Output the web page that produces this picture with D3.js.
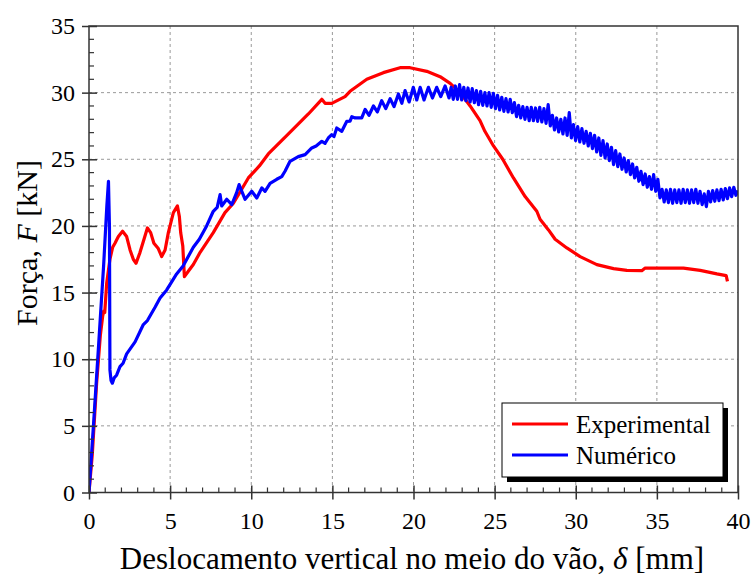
<!DOCTYPE html>
<html>
<head>
<meta charset="utf-8">
<script src="https://cdn.jsdelivr.net/npm/d3@7"></script>
<style>
  html, body { margin: 0; padding: 0; background: #fff; }
  svg { display: block; }
  svg text { font-family: "Liberation Serif", "Times New Roman", Times, serif; }
</style>
</head>
<body>
<svg id="chart" width="752" height="577"></svg>
<script>
// Load–deflection curves: mid-span displacement δ [mm] vs force F [kN]
const seriesNames = ["Experimental", "Numérico"];
const seriesColors = ["#ff0000", "#0000ff"];

const xTicks = [0, 5, 10, 15, 20, 25, 30, 35, 40];
const yTicks = [0, 5, 10, 15, 20, 25, 30, 35];

// Experimental curve [δ, F]
const experimental = [
  [0, 0], [0.2, 2.8], [0.47, 8.2], [0.7, 11.8], [0.84, 13.2], [0.9, 13.6], [0.97, 13.5],
  [1.09, 15.7], [1.29, 17.5], [1.46, 18.4], [1.6, 18.7], [1.81, 19.2], [2.07, 19.6],
  [2.32, 19.2], [2.53, 18.2], [2.73, 17.5], [2.9, 17.2], [3.14, 18.0], [3.39, 19.0],
  [3.6, 19.85], [3.8, 19.5], [4.0, 18.7], [4.27, 18.3], [4.48, 17.7], [4.69, 18.2],
  [4.89, 19.5], [5.2, 21.0], [5.45, 21.5], [5.57, 20.7], [5.65, 19.5], [5.78, 18.5],
  [5.88, 16.2], [6.12, 16.6], [6.43, 17.1], [6.84, 18.0], [7.66, 19.5], [8.38, 21.0],
  [8.9, 21.7], [9.82, 23.6], [10.5, 24.5], [11.05, 25.4], [12.29, 26.9], [13.52, 28.4],
  [14.35, 29.5], [14.55, 29.2], [14.96, 29.2], [15.78, 29.7], [16.09, 30.1], [17.12, 31.0],
  [18.14, 31.5], [19.17, 31.87], [19.79, 31.87], [20.82, 31.6], [21.64, 31.2], [22.26, 30.7],
  [22.87, 30.0], [23.49, 29.0], [24.1, 27.9], [24.4, 27.1], [24.93, 26.0], [25.5, 25.0],
  [26.16, 23.6], [26.88, 22.2], [27.6, 21.1], [27.8, 20.5], [28.32, 19.7], [28.73, 19.0],
  [29.45, 18.35], [30.27, 17.7], [31.3, 17.1], [32.33, 16.8], [33.15, 16.67], [34.07, 16.64],
  [34.28, 16.84], [35.41, 16.84], [36.64, 16.84], [37.67, 16.67], [38.7, 16.4], [39.27, 16.27],
  [39.35, 15.84]
];

// Numerical curve [δ, F]
const numerico = [
  [0, 0], [0.3, 5.5], [0.6, 11.2], [0.9, 17.0], [1.1, 21.5], [1.2, 23.35], [1.26, 20.0],
  [1.29, 9.2], [1.36, 8.4], [1.44, 8.2], [1.55, 8.6], [1.7, 8.8], [1.91, 9.45], [2.1, 9.7],
  [2.32, 10.4], [2.84, 11.3], [3.35, 12.6], [3.6, 12.9], [4.07, 13.9], [4.38, 14.6],
  [4.79, 15.2], [5.4, 16.4], [5.8, 17.0], [6.43, 18.4], [6.8, 19.0], [7.25, 20.0],
  [7.66, 21.1], [7.9, 21.4], [8.08, 22.35], [8.18, 21.5], [8.49, 22.0], [8.8, 21.6],
  [9.1, 22.5], [9.25, 23.1], [9.45, 22.5], [9.62, 22.0], [10.03, 22.6], [10.34, 22.1],
  [10.65, 22.85], [10.85, 22.6], [11.16, 23.2], [11.57, 23.5], [11.88, 23.7], [12.08, 24.1],
  [12.39, 24.85], [12.9, 25.2], [13.32, 25.35], [13.73, 25.85], [14.0, 26.0], [14.35, 26.35],
  [14.55, 26.2], [14.75, 26.6], [14.96, 26.85], [15.1, 26.7], [15.27, 27.35], [15.58, 27.1],
  [15.89, 27.85], [16.09, 27.86], [16.2, 28.2], [16.4, 28.1], [16.81, 28.1],
  [17.02, 28.74], [17.26, 28.3], [17.53, 29.0], [17.77, 28.55], [18.04, 29.4], [18.29, 28.8],
  [18.56, 29.55], [18.8, 28.95], [19.07, 29.9], [19.28, 29.2], [19.48, 30.15], [19.73, 29.3],
  [19.99, 30.4], [20.2, 29.45], [20.41, 30.4], [20.65, 29.45], [20.92, 30.4], [21.17, 29.6],
  [21.43, 30.4], [21.68, 29.7], [21.95, 30.5], [22.19, 29.6],
  [22.32, 30.4], [22.45, 29.5], [22.58, 30.5], [22.71, 29.5], [22.84, 30.6], [22.97, 29.45],
  [23.10, 30.4], [23.23, 29.4], [23.36, 30.35], [23.49, 29.3], [23.62, 30.3], [23.75, 29.25],
  [23.88, 30.15], [24.01, 29.1], [24.14, 30.1], [24.27, 29.05], [24.40, 30.0], [24.53, 29.0],
  [24.66, 30.0], [24.79, 28.9], [24.92, 29.95], [25.05, 28.8], [25.18, 29.8], [25.31, 28.7],
  [25.44, 29.65], [25.57, 28.6], [25.70, 29.55], [25.83, 28.55], [25.96, 29.5], [26.09, 28.5],
  [26.22, 29.25], [26.35, 28.2], [26.48, 29.05], [26.61, 28.1], [26.74, 28.95], [26.87, 28.0],
  [27.00, 28.9], [27.13, 27.9], [27.26, 28.9], [27.39, 27.9], [27.52, 28.85], [27.65, 27.85],
  [27.78, 28.9], [27.91, 27.8], [28.04, 28.8], [28.17, 27.7], [28.30, 29.1], [28.43, 27.5],
  [28.56, 28.3], [28.69, 27.2], [28.82, 28.1], [28.95, 27.05], [29.08, 28.0], [29.21, 26.9],
  [29.34, 28.1], [29.47, 26.8], [29.60, 28.5], [29.73, 26.6], [29.86, 27.6], [29.99, 26.4],
  [30.12, 27.45], [30.25, 26.3], [30.38, 27.3], [30.51, 26.2], [30.64, 27.1], [30.77, 26.0],
  [30.90, 26.95], [31.03, 25.8], [31.16, 26.8], [31.29, 25.55], [31.42, 26.6], [31.55, 25.3],
  [31.68, 26.4], [31.81, 25.1], [31.94, 26.15], [32.07, 24.9], [32.20, 25.9], [32.33, 24.6],
  [32.46, 25.65], [32.59, 24.45], [32.72, 25.4], [32.85, 24.25], [32.98, 25.1], [33.11, 24.05],
  [33.24, 24.9], [33.37, 23.85], [33.50, 24.65], [33.63, 23.6], [33.76, 24.4], [33.89, 23.35],
  [34.02, 24.1], [34.15, 23.1], [34.28, 23.9], [34.41, 22.9], [34.54, 23.7], [34.67, 22.75],
  [34.80, 23.85], [34.93, 22.6], [35.06, 23.5], [35.19, 22.1], [35.32, 22.75], [35.45, 21.8],
  [35.58, 22.7], [35.71, 21.75], [35.84, 22.75], [35.97, 21.7], [36.10, 22.7], [36.23, 21.75],
  [36.36, 22.7], [36.49, 21.7], [36.62, 22.75], [36.75, 21.75], [36.88, 22.7], [37.01, 21.7],
  [37.14, 22.7], [37.27, 21.75], [37.40, 22.75], [37.53, 21.7], [37.66, 22.6], [37.79, 21.6],
  [37.92, 22.4], [38.05, 21.45], [38.18, 22.6], [38.31, 21.8], [38.44, 22.65], [38.57, 21.85],
  [38.70, 22.7], [38.83, 21.9], [38.96, 22.75], [39.09, 21.95], [39.22, 22.8], [39.35, 22.05],
  [39.48, 22.85], [39.61, 22.2], [39.74, 22.9], [39.87, 22.3], [40.0, 22.65]
];

const serif = "'Liberation Serif', 'Times New Roman', Times, serif";
const svg = d3.select("#chart");
const plot = { left: 89, right: 738, top: 26, bottom: 492.5 };

const x = d3.scaleLinear().domain([0, 40]).range([plot.left, plot.right]);
const y = d3.scaleLinear().domain([0, 35]).range([plot.bottom, plot.top]);

const axisColor = "#333";

// dashed grid at major ticks
const grid = svg.append("g");
grid.selectAll("line.gx").data(xTicks.slice(1, -1)).join("line")
  .attr("x1", d => x(d)).attr("x2", d => x(d))
  .attr("y1", plot.top).attr("y2", plot.bottom)
  .attr("stroke", "#999").attr("stroke-width", 1).attr("stroke-dasharray", "3,3");
grid.selectAll("line.gy").data(yTicks.slice(1, -1)).join("line")
  .attr("x1", plot.left).attr("x2", plot.right)
  .attr("y1", d => y(d)).attr("y2", d => y(d))
  .attr("stroke", "#999").attr("stroke-width", 1).attr("stroke-dasharray", "3,3");

// curves
const line = d3.line().x(d => x(d[0])).y(d => y(d[1]));
svg.append("clipPath").attr("id", "plotclip").append("rect")
  .attr("x", plot.left).attr("y", plot.top)
  .attr("width", plot.right - plot.left).attr("height", plot.bottom - plot.top);
const curves = svg.append("g").attr("clip-path", "url(#plotclip)");
[experimental, numerico].forEach((data, i) => {
  curves.append("path").datum(data)
    .attr("d", line)
    .attr("fill", "none")
    .attr("stroke", seriesColors[i])
    .attr("stroke-width", 3.2)
    .attr("stroke-linejoin", "round");
});

// frame
svg.append("rect")
  .attr("x", plot.left).attr("y", plot.top)
  .attr("width", plot.right - plot.left).attr("height", plot.bottom - plot.top)
  .attr("fill", "none").attr("stroke", axisColor).attr("stroke-width", 1.5);

// bottom axis: major ticks cross the axis, minor ticks point inward
const xMinor = d3.range(0, 41, 1).filter(v => v % 5 !== 0);
const xAxis = d3.axisBottom(x).tickValues(xTicks).tickSize(7).tickPadding(12).tickFormat(d3.format("d"));
const gx = svg.append("g").attr("transform", `translate(0,${plot.bottom})`).call(xAxis)
  .attr("font-family", null);
gx.select(".domain").remove();
gx.selectAll(".tick line").attr("y1", -7).attr("stroke", axisColor).attr("stroke-width", 1.5);
gx.selectAll(".tick text").style("font-family", serif).style("font-size", "24px").attr("fill", "#000");
svg.append("g").selectAll("line").data(xMinor).join("line")
  .attr("x1", d => x(d)).attr("x2", d => x(d))
  .attr("y1", plot.bottom).attr("y2", plot.bottom - 5)
  .attr("stroke", axisColor).attr("stroke-width", 1.2);

// left axis
const yMinor = d3.range(0, 36, 1).filter(v => v % 5 !== 0);
const yAxis = d3.axisLeft(y).tickValues(yTicks).tickSize(7).tickPadding(7).tickFormat(d3.format("d"));
const gy = svg.append("g").attr("transform", `translate(${plot.left},0)`).call(yAxis)
  .attr("font-family", null);
gy.select(".domain").remove();
gy.selectAll(".tick line").attr("x1", 8).attr("stroke", axisColor).attr("stroke-width", 1.5);
gy.selectAll(".tick text").style("font-family", serif).style("font-size", "24px").attr("fill", "#000");
svg.append("g").selectAll("line").data(yMinor).join("line")
  .attr("x1", plot.left).attr("x2", plot.left + 5)
  .attr("y1", d => y(d)).attr("y2", d => y(d))
  .attr("stroke", axisColor).attr("stroke-width", 1.2);

// axis titles
const xt = svg.append("text")
  .attr("x", 412).attr("y", 569)
  .attr("text-anchor", "middle").style("font-family", serif).style("font-size", "31px").attr("fill", "#000");
xt.append("tspan").text("Deslocamento vertical no meio do vão, ");
xt.append("tspan").attr("font-style", "italic").text("δ");
xt.append("tspan").text(" [mm]");

const yt = svg.append("text")
  .attr("transform", "translate(37,243) rotate(-90)")
  .attr("text-anchor", "middle").style("font-family", serif).style("font-size", "30px").attr("fill", "#000");
yt.append("tspan").text("Força, ");
yt.append("tspan").attr("font-style", "italic").text("F");
yt.append("tspan").text(" [kN]");

// legend with drop shadow
const lg = svg.append("g");
lg.append("rect").attr("x", 507).attr("y", 408).attr("width", 221).attr("height", 74).attr("fill", "#000");
lg.append("rect").attr("x", 502).attr("y", 403).attr("width", 221).attr("height", 74)
  .attr("fill", "#fff").attr("stroke", "#000").attr("stroke-width", 1);
seriesNames.forEach((name, i) => {
  const cy = 424 + i * 31;
  lg.append("line").attr("x1", 512).attr("x2", 568).attr("y1", cy).attr("y2", cy)
    .attr("stroke", seriesColors[i]).attr("stroke-width", 3);
  lg.append("text").attr("x", 576).attr("y", cy + 9)
    .style("font-family", serif).style("font-size", "25px").attr("fill", "#000").text(name);
});
</script>
</body>
</html>
